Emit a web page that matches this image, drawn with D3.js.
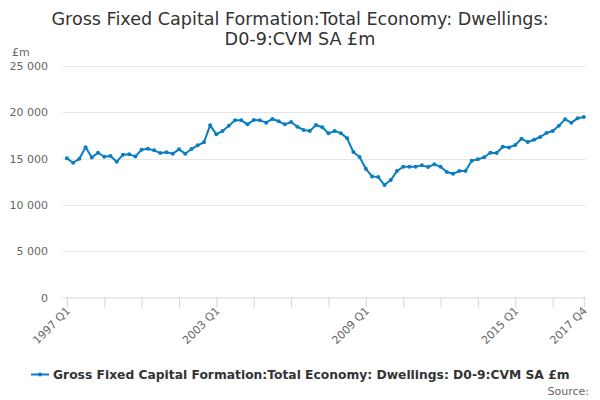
<!DOCTYPE html>
<html>
<head>
<meta charset="utf-8">
<script src="https://cdn.jsdelivr.net/npm/d3@7/dist/d3.min.js"></script>
<style>
  html, body { margin: 0; padding: 0; background: #fff; }
  svg { display: block; font-family: "DejaVu Sans", sans-serif; }
</style>
</head>
<body>
<svg id="chart" width="600" height="400"></svg>
<script>
const titleLines = ["Gross Fixed Capital Formation:Total Economy: Dwellings:", "D0-9:CVM SA £m"];
const seriesName = "Gross Fixed Capital Formation:Total Economy: Dwellings: D0-9:CVM SA £m";
const years = d3.range(1997, 2018);
const quarters = ["Q1", "Q2", "Q3", "Q4"];
const categories = years.flatMap(y => quarters.map(q => y + " " + q));
const values = [
  15030,14550,14980,16220,15130,15630,15200,15280,14660,15420,15460,15240,
  15960,16070,15890,15600,15680,15530,16000,15530,16030,16430,16760,18590,
  17620,17980,18550,19130,19130,18700,19170,19130,18880,19280,19030,18700,
  18950,18440,18090,17980,18630,18380,17730,17980,17750,17190,15710,15170,
  13900,13080,13000,12140,12680,13650,14120,14120,14120,14270,14090,14380,
  14120,13550,13360,13650,13650,14770,14920,15140,15630,15600,16280,16210,
  16470,17150,16790,17040,17330,17760,17980,18550,19240,18880,19350,19490
];
const yTicks = [0, 5000, 10000, 15000, 20000, 25000];
const xLabelCats = ["1997 Q1", "2003 Q1", "2009 Q1", "2015 Q1", "2017 Q4"];

const svg = d3.select("#chart");
const plotLeft = 63, plotRight = 586, plotTop = 66, plotBottom = 297.5;

const x = d3.scalePoint().domain(categories).range([66.9, 583.8]);
const y = d3.scaleLinear().domain([0, 25000]).range([plotBottom, plotTop]);

// Title
svg.append("g").selectAll("text").data(titleLines).join("text")
  .attr("x", 300).attr("y", (d, i) => 25 + i * 20)
  .attr("text-anchor", "middle").attr("font-size", 17.6).attr("fill", "#333")
  .text(d => d);

// Grid
svg.append("g").selectAll("line").data(yTicks.filter(t => t > 0)).join("line")
  .attr("x1", plotLeft).attr("x2", plotRight)
  .attr("y1", d => Math.round(y(d)) + 0.5).attr("y2", d => Math.round(y(d)) + 0.5)
  .attr("stroke", "#e6e6e6").attr("stroke-width", 1);

// Y axis labels
const fmt = v => d3.format(",")(v).replace(/,/g, " ");
svg.append("g").selectAll("text").data(yTicks).join("text")
  .attr("x", 48).attr("y", d => y(d) + 4)
  .attr("text-anchor", "end").attr("font-size", 11).attr("fill", "#666")
  .text(d => fmt(d));
svg.append("text").attr("x", 12).attr("y", 56).attr("font-size", 11).attr("fill", "#666").text("£m");

// X axis
const tickCats = categories.filter((c, i) => i % 6 === 0 || i === categories.length - 1);
const xAxis = d3.axisBottom(x).tickValues(tickCats).tickSize(10).tickFormat("");
const gx = svg.append("g").attr("transform", `translate(0,${plotBottom})`).call(xAxis);
gx.select(".domain").attr("stroke", "#ccd6eb").attr("d", `M${plotLeft},0.5H${plotRight}`);
gx.selectAll(".tick line").attr("stroke", "#ccd6eb");

svg.append("g").selectAll("text").data(xLabelCats).join("text")
  .attr("transform", d => `translate(${x(d) + 4},${plotBottom + 14}) rotate(-45)`)
  .attr("text-anchor", "end").attr("font-size", 11).attr("fill", "#666")
  .text(d => d);

// Line
const color = "#0b7ec2";
const line = d3.line().x((d, i) => x(categories[i])).y(d => y(d));
svg.append("path").datum(values).attr("d", line)
  .attr("fill", "none").attr("stroke", color).attr("stroke-width", 2)
  .attr("stroke-linejoin", "round");
svg.append("g").selectAll("circle").data(values).join("circle")
  .attr("cx", (d, i) => x(categories[i])).attr("cy", d => y(d))
  .attr("r", 2).attr("fill", color);

// Legend
const lg = svg.append("g");
lg.append("line").attr("x1", 31).attr("x2", 49).attr("y1", 374.5).attr("y2", 374.5)
  .attr("stroke", color).attr("stroke-width", 2);
lg.append("circle").attr("cx", 40).attr("cy", 374.5).attr("r", 2).attr("fill", color);
lg.append("text").attr("x", 53).attr("y", 379).attr("font-size", 12.3).attr("font-weight", "bold")
  .attr("fill", "#333").text(seriesName);

svg.append("text").attr("x", 589).attr("y", 395).attr("text-anchor", "end")
  .attr("font-size", 11).attr("fill", "#666").text("Source:");
</script>
</body>
</html>
